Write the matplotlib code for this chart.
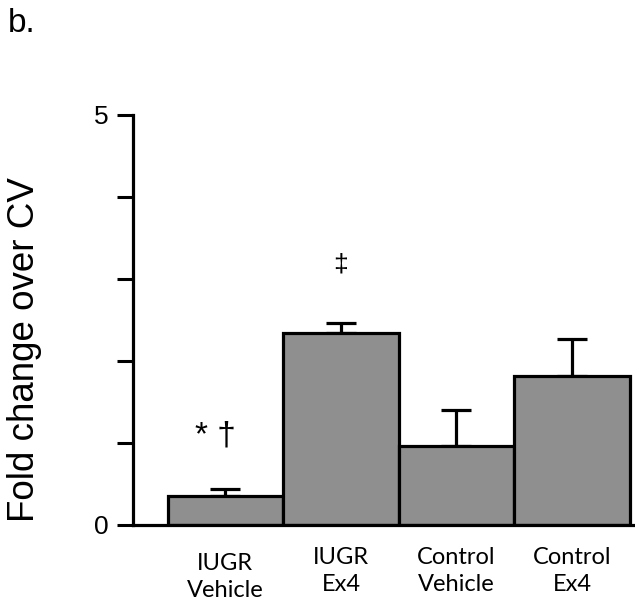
import matplotlib
matplotlib.use("Agg")
import matplotlib.pyplot as plt
import matplotlib.transforms as mtransforms

categories = ["IUGR\nVehicle", "IUGR\nEx4", "Control\nVehicle", "Control\nEx4"]
means = [0.35, 2.34, 0.96, 1.82]
errors_upper = [0.09, 0.12, 0.44, 0.45]
yticks = [0, 1, 2, 3, 4, 5]
ytick_labels = ["0", "", "", "", "", "5"]

fig = plt.figure(figsize=(6.35, 6.08), dpi=100)
ax = fig.add_axes([133/635, 1-525/608, 1-133/635, (525-115)/608])

x = list(range(len(categories)))
ax.bar(x, means, width=1.0, color="#8f8f8f", edgecolor="black", linewidth=2.3, zorder=3)
ax.errorbar(x, means, yerr=[[0]*len(means), errors_upper], fmt="none", ecolor="black",
            elinewidth=2.3, capsize=10.8, capthick=2.3, zorder=2)

ax.set_xlim(-0.80, 3.545)
ax.set_ylim(0, 5)
ax.set_yticks(yticks)
ax.set_yticklabels(ytick_labels, fontsize=19, family="Liberation Sans")
ax.tick_params(axis="y", length=11.5, width=2.2, pad=6, direction="out")
ax.set_xticks([])
for s in ["top", "right"]:
    ax.spines[s].set_visible(False)
for s in ["left", "bottom"]:
    ax.spines[s].set_linewidth(2.3)
ax.spines["bottom"].set_zorder(4)

trans = mtransforms.blended_transform_factory(ax.transData, ax.transAxes)
label_y = [-0.127, -0.112, -0.112, -0.112]
for xi, lab, ly in zip(x, categories, label_y):
    ax.text(xi, ly, lab, transform=trans, ha="center", va="center",
            fontsize=17, family="Lato", linespacing=1.35)

ax.text(-0.09, 1.085, "* \u2020", ha="center", va="center", fontsize=24,
        family="Liberation Sans")
ax.text(1.0, 3.18, "\u2021", ha="center", va="center", fontsize=19,
        family="Liberation Sans")

fig.text(7/635, 1-350/608, "Fold change over CV", rotation=90, ha="left", va="center",
         fontsize=26.5, family="Liberation Sans")
fig.text(8/635, 1-8/608, "b.", ha="left", va="top", fontsize=24, family="Liberation Sans")

fig.savefig("out.png", dpi=100)
